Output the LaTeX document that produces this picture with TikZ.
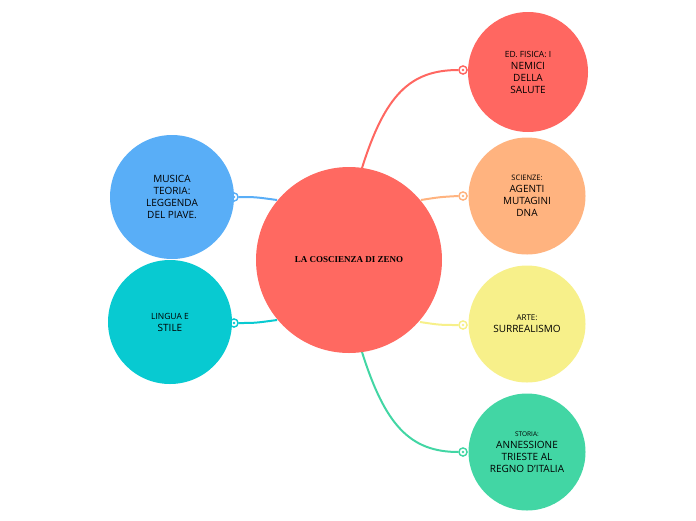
\documentclass[tikz,border=0pt]{standalone}
\usepackage{fontspec}
\setmainfont{Open Sans}
\newfontfamily\titlefont{Liberation Serif}
\begin{document}
\begin{tikzpicture}[x=1pt,y=-1pt,
  bubble/.style={circle,inner sep=0pt,align=center,text=black},
  link/.style={line width=2pt},
  ring/.style={circle,draw=#1,fill=white,line width=1.3pt,minimum size=8pt,inner sep=0pt,
     path picture={\fill[#1] (path picture bounding box.center) circle (1.4pt);}}]
\useasboundingbox (0,0) rectangle (696,520);
\definecolor{cmain}{HTML}{FF6961}
\definecolor{cred}{HTML}{FF6761}
\definecolor{corange}{HTML}{FFB37F}
\definecolor{cyellow}{HTML}{F7F08A}
\definecolor{cgreen}{HTML}{42D6A4}
\definecolor{cblue}{HTML}{59AEF7}
\definecolor{ccyan}{HTML}{08CAD1}
% markers
\node[ring=cred] (m1) at (463,70) {};
\node[ring=corange] (m2) at (463,196) {};
\node[ring=cyellow] (m3) at (463,325) {};
\node[ring=cgreen] (m4) at (463,452) {};
\node[ring=cblue] (m5) at (234,197) {};
\node[ring=ccyan] (m6) at (234,323) {};
\coordinate (s1) at (362,168);
\coordinate (s2) at (421,200);
\coordinate (s3) at (420,322);
\coordinate (s4) at (362,352);
\coordinate (s5) at (277,200);
\coordinate (s6) at (277,320);
\draw[link,cred] (s1) .. controls (385,95) and (410,70) .. (m1.west);
\draw[link,corange] (s2) .. controls (440,197) .. (m2.west);
\draw[link,cyellow] (s3) .. controls (440,325) .. (m3.west);
\draw[link,cgreen] (s4) .. controls (385,425) and (410,452) .. (m4.west);
\draw[link,cblue] (s5) .. controls (255,197) .. (m5.east);
\draw[link,ccyan] (s6) .. controls (255,323) .. (m6.east);
\node[ring=cred] at (m1) {};
\node[ring=corange] at (m2) {};
\node[ring=cyellow] at (m3) {};
\node[ring=cgreen] at (m4) {};
\node[ring=cblue] at (m5) {};
\node[ring=ccyan] at (m6) {};
% circles
\node[bubble,fill=cmain,minimum size=186pt] (c) at (349,260) {\titlefont\bfseries\small LA COSCIENZA DI ZENO};
\node[bubble,fill=cred,minimum size=120pt] (a) at (528,72) {\fontsize{8.5}{12}\selectfont ED. FISICA: I\\NEMICI\\DELLA\\SALUTE};
\node[bubble,fill=corange,minimum size=117pt] (b) at (527,196) {\fontsize{7.5}{11}\selectfont SCIENZE:\\AGENTI\\MUTAGINI\\DNA};
\node[bubble,fill=cyellow,minimum size=117pt] (d) at (527,324) {\fontsize{8}{12}\selectfont ARTE:\\SURREALISMO};
\node[bubble,fill=cgreen,minimum size=117pt] (e) at (527,452) {\fontsize{6.5}{10}\selectfont STORIA:\\ANNESSIONE\\TRIESTE AL\\REGNO D'ITALIA};
\node[bubble,fill=cblue,minimum size=124pt] (f) at (172,197) {\fontsize{10}{14}\selectfont MUSICA\\TEORIA:\\LEGGENDA\\DEL PIAVE.};
\node[bubble,fill=ccyan,minimum size=124pt] (g) at (170,322) {\fontsize{8.5}{13}\selectfont LINGUA E\\STILE};
\end{tikzpicture}
\end{document}
